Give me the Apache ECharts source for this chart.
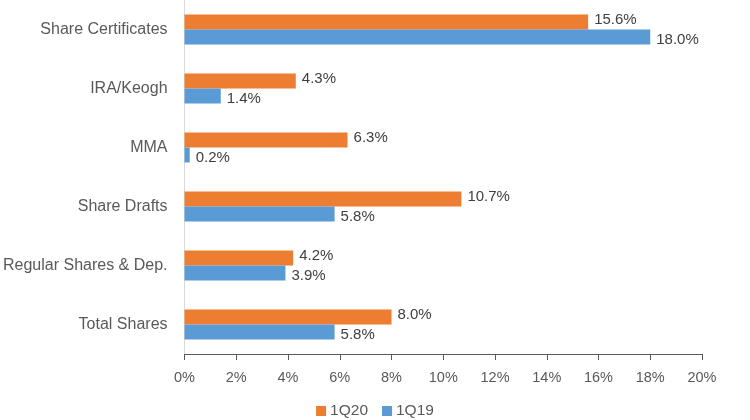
<!DOCTYPE html>
<html>
<head>
<meta charset="utf-8">
<script src="https://cdn.jsdelivr.net/npm/echarts@6/dist/echarts.min.js"></script>
<style>html,body{margin:0;padding:0;background:#fff}#c{width:750px;height:420px}</style>
</head>
<body>
<div id="c"></div>
<script>
var categories = ['Share Certificates', 'IRA/Keogh', 'MMA', 'Share Drafts', 'Regular Shares & Dep.', 'Total Shares'];
var seriesNames = ['1Q20', '1Q19'];
var values1Q20 = [15.6, 4.3, 6.3, 10.7, 4.2, 8.0];
var values1Q19 = [18.0, 1.4, 0.2, 5.8, 3.9, 5.8];
var tickValues = [0, 2, 4, 6, 8, 10, 12, 14, 16, 18, 20];

var FONT = '"Liberation Sans", Arial, sans-serif';
var TXT = '#595959';
var chart = echarts.init(document.getElementById('c'), null, {renderer: 'canvas'});
function lbl(offY) {
  return {
    show: true, position: 'right', distance: 6, offset: [0, offY],
    color: '#404040', fontFamily: FONT, fontSize: 15,
    formatter: function (p) { return p.value.toFixed(1) + '%'; }
  };
}
chart.setOption({
  animation: false,
  textStyle: {fontFamily: FONT},
  grid: {left: 183, right: 48, top: 0, bottom: 66, containLabel: false},
  legend: {
    top: 398, left: 'center', itemWidth: 10, itemHeight: 10, itemGap: 14,
    icon: 'rect',
    textStyle: {color: TXT, fontFamily: FONT, fontSize: 15.5, padding: [0, 0, 0, -1]},
    data: seriesNames
  },
  xAxis: {
    type: 'value', min: 0, max: 20, interval: 2,
    axisLine: {show: true, lineStyle: {color: '#595959', width: 1}},
    axisTick: {show: true, length: 6, lineStyle: {color: '#595959'}},
    splitLine: {show: false},
    axisLabel: {color: TXT, fontFamily: FONT, fontSize: 14.5, margin: 16,
      formatter: function (v) { return tickValues.indexOf(v) >= 0 ? v + '%' : ''; }}
  },
  yAxis: {
    type: 'category', data: categories, inverse: true,
    axisLine: {show: true, lineStyle: {color: '#d9d9d9'}},
    axisTick: {show: false},
    axisLabel: {color: TXT, fontFamily: FONT, fontSize: 16, margin: 17}
  },
  series: [
    {name: seriesNames[0], type: 'bar', data: values1Q20, barWidth: 15, barGap: '0%',
      itemStyle: {color: '#ED7D31'}, label: lbl(-2)},
    {name: seriesNames[1], type: 'bar', data: values1Q19, barWidth: 15, barGap: '0%',
      itemStyle: {color: '#5B9BD5'}, label: lbl(3)}
  ]
});
</script>
</body>
</html>
